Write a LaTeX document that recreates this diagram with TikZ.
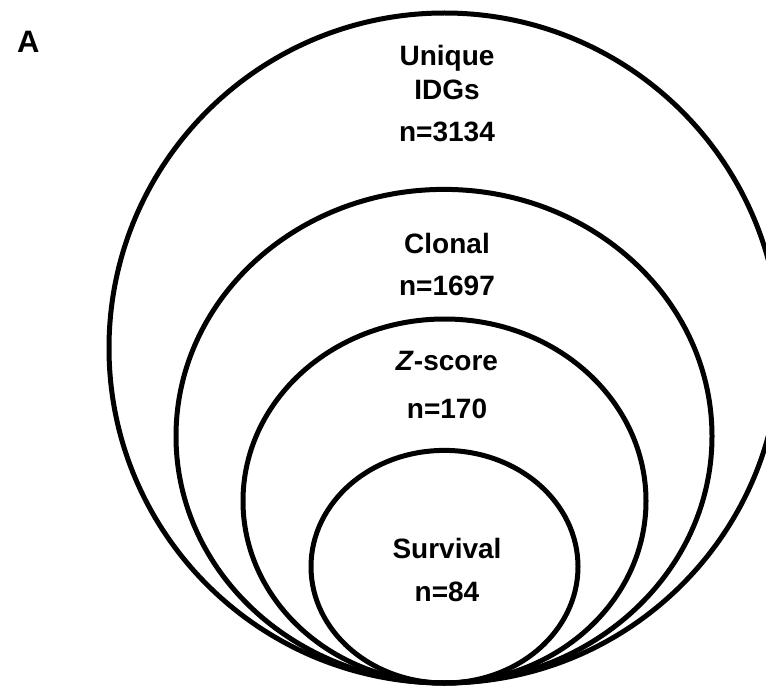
\documentclass[tikz,border=0pt]{standalone}
\usepackage{fontspec}
\setmainfont{Liberation Sans}
\begin{document}
\begin{tikzpicture}[x=1pt,y=-1pt,
  ring/.style={line width=5pt, draw=black},
  lab/.style={font=\fontsize{28}{32}\selectfont\bfseries, inner sep=0pt, anchor=base},
  panel/.style={font=\fontsize{31}{36}\selectfont\bfseries, inner sep=0pt, anchor=base west}]
\useasboundingbox (0,0) rectangle (766,690);
\clip (0,0) rectangle (766,690);
% ellipses
\draw[ring] (444.5,348) ellipse [x radius=335.5, y radius=335];
\draw[ring] (444,436.2) ellipse [x radius=268, y radius=246.8];
\draw[ring] (444.5,501) ellipse [x radius=201.5, y radius=182];
\draw[ring] (444.5,566.7) ellipse [x radius=133.5, y radius=116.3];
% labels
\node[panel] (A) at (17,53) {A};
\node[lab] (unique) at (447,66) {Unique};
\node[lab] (idgs) at (447,100) {IDGs};
\node[lab] (n1) at (447,142) {n=3134};
\node[lab] (clonal) at (447,253) {Clonal};
\node[lab] (n2) at (447,295) {n=1697};
\node[lab] (zscore) at (447,370) {\textit{Z}-score};
\node[lab] (n3) at (447,418) {n=170};
\node[lab] (surv) at (447,558) {Survival};
\node[lab] (n4) at (447,601) {n=84};
\end{tikzpicture}
\end{document}
